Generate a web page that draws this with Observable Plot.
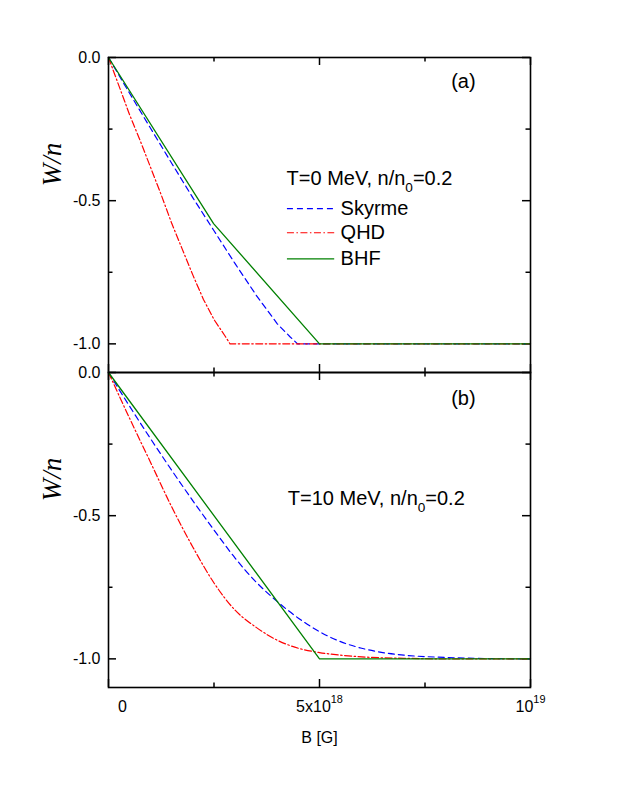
<!DOCTYPE html>
<html><head><meta charset="utf-8">
<script src="https://cdn.jsdelivr.net/npm/d3@7"></script>
<script src="https://cdn.jsdelivr.net/npm/@observablehq/plot@0.6"></script>
<style>
body{margin:0;background:#fff;}
#wrap{position:relative;width:623px;height:806px;background:#fff;overflow:hidden;}
#wrap svg{position:absolute;left:0;}
</style></head><body><div id="wrap"></div>
<script>
// ---------- data ----------
const panelTags = ["(a)", "(b)"];
const panelTitles = ["T=0 MeV, n/n_{0}=0.2", "T=10 MeV, n/n_{0}=0.2"];
const seriesNames = ["Skyrme", "QHD", "BHF"];
// B in units of 10^18 G, W/n dimensionless
const skyrmeT0_B = [0, 0.5, 1, 1.5, 2, 2.5, 3, 3.5, 4, 4.3, 4.48, 10];
const skyrmeT0_W = [0, -0.125, -0.248, -0.37, -0.49, -0.605, -0.72, -0.83, -0.93, -0.975, -1.0, -1.0];
const qhdT0_B = [0, 0.25, 0.5, 0.75, 1, 1.25, 1.5, 1.75, 2, 2.25, 2.5, 2.75, 2.88, 10];
const qhdT0_W = [0, -0.1, -0.2, -0.29, -0.385, -0.48, -0.58, -0.67, -0.76, -0.845, -0.915, -0.97, -1, -1];
const bhfT0_B = [0, 2.49, 5.0, 10];
const bhfT0_W = [0, -0.58, -1, -1];
const skyrmeT10_B = [0, 0.5, 1, 1.5, 2, 2.5, 3, 3.5, 4, 4.5, 5, 5.5, 6, 6.5, 7, 8, 9, 10];
const skyrmeT10_W = [0, -0.118, -0.232, -0.342, -0.448, -0.55, -0.648, -0.732, -0.8, -0.858, -0.905, -0.94, -0.963, -0.978, -0.987, -0.995, -0.999, -1];
const qhdT10_B = [0, 0.5, 1, 1.5, 2, 2.5, 3, 3.5, 4, 4.5, 5, 5.5, 6, 7, 8, 10];
const qhdT10_W = [0, -0.16, -0.315, -0.47, -0.61, -0.735, -0.83, -0.89, -0.935, -0.963, -0.978, -0.987, -0.993, -0.998, -1, -1];
const bhfT10_B = [0, 5.0, 10];
const bhfT10_W = [0, -1, -1];

const yTicks = [0, -0.5, -1.0];
const yMinorTicks = [-0.25, -0.75];
const xTicks = [0, 5e18, 1e19];
const xMinorTicks = [2.5e18, 7.5e18];
const xTickLabels = ["0", "5x10^{18}", "10^{19}"];
const xLabel = "B [G]";
const yLabel = "W/n";

// ---------- layout / style ----------
const UNIT = 1e18;
const W = 623, ML = 108, MR = 93, PH = 315, PW = W - ML - MR;
const styles = [
  {stroke: "#0000ff", strokeWidth: 1.2, strokeDasharray: "6,4"},
  {stroke: "#ff0000", strokeWidth: 1.2, strokeDasharray: "7,2.5,1.5,2.5"},
  {stroke: "#008000", strokeWidth: 1.3}
];
const curves = [["linear", "linear", "linear"], ["monotone-x", "monotone-x", "linear"]];
const panelData = [
  [[skyrmeT0_B, skyrmeT0_W], [qhdT0_B, qhdT0_W], [bhfT0_B, bhfT0_W]],
  [[skyrmeT10_B, skyrmeT10_W], [qhdT10_B, qhdT10_W], [bhfT10_B, bhfT10_W]]
];
const toRows = ([bs, ws]) => bs.map((b, i) => ({B: b * UNIT, W: ws[i]}));

function richText(svg) {
  d3.select(svg).selectAll("text").each(function () {
    const s = this.textContent;
    if (!/[_^]\{/.test(s)) return;
    const el = d3.select(this);
    const fs = parseFloat(getComputedStyle(this).fontSize) || 16;
    el.text(null);
    const re = /([_^])\{([^}]*)\}/g;
    let last = 0, m, off = 0;
    const add = (txt, shift, small) => {
      if (!txt) return;
      const t = el.append("tspan").text(txt).attr("dy", shift - off);
      if (small) t.attr("font-size", small);
      off = shift;
    };
    while ((m = re.exec(s))) {
      add(s.slice(last, m.index), 0, null);
      if (m[1] === "_") add(m[2], 0.37 * fs, (0.68 * fs) + "px");
      else add(m[2], -0.56 * fs, (0.68 * fs) + "px");
      last = re.lastIndex;
    }
    add(s.slice(last), 0, null);
  });
}

function makePanel(p, top, height, mt, mb, bottomAxis) {
  const marks = [];
  const major = 8, minor = 4.5, tw = 1.5;
  for (const [vals, len] of [[xTicks, major], [xMinorTicks, minor]]) {
    marks.push(Plot.tickX(vals, {x: d => d, insetTop: PH - len, stroke: "#000", strokeWidth: tw}));
    marks.push(Plot.tickX(vals, {x: d => d, insetBottom: PH - len, stroke: "#000", strokeWidth: tw}));
  }
  for (const [vals, len] of [[yTicks, major], [yMinorTicks, minor]]) {
    marks.push(Plot.tickY(vals, {y: d => d, insetRight: PW - len, stroke: "#000", strokeWidth: tw}));
    marks.push(Plot.tickY(vals, {y: d => d, insetLeft: PW - len, stroke: "#000", strokeWidth: tw}));
  }
  panelData[p].forEach((s, i) => {
    marks.push(Plot.line(toRows(s), {x: "B", y: "W", curve: curves[p][i], ...styles[i]}));
  });
  marks.push(Plot.frame({stroke: "#000", strokeWidth: 1.6}));
  marks.push(Plot.text(yTicks, {y: d => d, text: d => d.toFixed(1), frameAnchor: "left", dx: -8, textAnchor: "end", fontSize: 16}));
  marks.push(Plot.text([yLabel], {y: -0.45, text: d => d, frameAnchor: "left", dx: -56, rotate: -90,
    fontFamily: "Liberation Serif, Times New Roman, serif", fontStyle: "italic", fontSize: 27}));
  marks.push(Plot.text([panelTags[p]], {x: 8.41e18, y: p === 0 ? -0.084 : -0.09, text: d => d, fontSize: 20}));
  marks.push(Plot.text([panelTitles[p]], {x: p === 0 ? 4.22e18 : 4.25e18, y: p === 0 ? -0.423 : -0.439,
    text: d => d, textAnchor: "start", fontSize: 20}));
  if (p === 0) {
    const legY = [-0.528, -0.612, -0.703];
    seriesNames.forEach((n, i) => {
      marks.push(Plot.ruleY([legY[i]], {y: d => d, x1: 4.24e18, x2: 5.36e18, ...styles[i]}));
      marks.push(Plot.text([n], {x: 5.5e18, y: legY[i], text: d => d, textAnchor: "start", fontSize: 20}));
    });
  }
  if (bottomAxis) {
    marks.push(Plot.text(xTicks, {x: d => d, text: (d, i) => xTickLabels[i], filter: (d, i) => i === 0,
      frameAnchor: "bottom", dy: 24, dx: 14, fontSize: 16}));
    marks.push(Plot.text(xTicks, {x: d => d, text: (d, i) => xTickLabels[i], filter: (d, i) => i > 0,
      frameAnchor: "bottom", dy: 24, fontSize: 16}));
    marks.push(Plot.text([xLabel], {text: d => d, frameAnchor: "bottom", dy: 55, fontSize: 16}));
  }
  const svg = Plot.plot({
    width: W, height, marginLeft: ML, marginRight: MR, marginTop: mt, marginBottom: mb,
    x: {domain: [0, 1e19], axis: null},
    y: {domain: [-1.1, 0], axis: null},
    style: {background: "transparent", overflow: "visible", fontFamily: "Liberation Sans, Arial, sans-serif", fontSize: "16px", color: "#000"},
    marks
  });
  svg.style.top = top + "px";
  document.getElementById("wrap").appendChild(svg);
  richText(svg);
}
makePanel(0, 0, 57 + PH + 10, 57, 10, false);
makePanel(1, 362, 806 - 362, 10, 806 - 362 - 10 - PH, true);
</script></body></html>
